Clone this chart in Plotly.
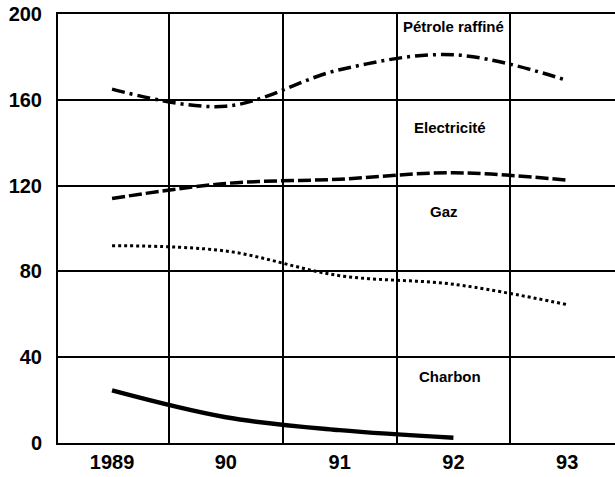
import plotly.graph_objects as go

years = ["1989", "90", "91", "92", "93"]
petrole = [165, 157, 174, 181, 169]
electricite = [114, 121, 123, 126, 122.5]
gaz = [92, 89.5, 78, 74, 64.5]
charbon = [24.5, 12, 6, 2.5]

x = list(range(len(years)))

fig = go.Figure()
fig.add_trace(go.Scatter(x=x, y=petrole, mode="lines", line_shape="spline",
                         line=dict(color="black", width=3.5, dash="13px,5px,3px,5px")))
fig.add_trace(go.Scatter(x=x, y=electricite, mode="lines", line_shape="spline",
                         line=dict(color="black", width=3.5, dash="13px,4px")))
fig.add_trace(go.Scatter(x=x, y=gaz, mode="lines", line_shape="spline",
                         line=dict(color="black", width=3, dash="3px,3px")))
fig.add_trace(go.Scatter(x=x[:len(charbon)], y=charbon, mode="lines", line_shape="spline",
                         line=dict(color="black", width=4.5)))

# series labels
lab_font = dict(family="Liberation Sans", size=15, color="black")
for txt, lx, ly in [("<b>Pétrole raffiné</b>", 3.0, 194),
                    ("<b>Electricité</b>", 2.97, 147),
                    ("<b>Gaz</b>", 2.92, 108),
                    ("<b>Charbon</b>", 2.97, 31)]:
    fig.add_annotation(x=lx, y=ly, text=txt, showarrow=False, font=lab_font,
                       bgcolor="white", borderpad=1)

fig.update_layout(
    width=615, height=477,
    margin=dict(l=58, r=0, t=14, b=34),
    plot_bgcolor="white", paper_bgcolor="white",
    showlegend=False,
    font=dict(family="Liberation Sans", size=20, color="black"),
)
fig.update_xaxes(
    range=[-0.475, 4.42], tickvals=x, ticktext=["<b>%s</b>" % y for y in years],
    showgrid=False, zeroline=False, showline=True, mirror=True,
    linecolor="black", linewidth=2, ticks="", ticklen=0,
    minor=dict(tick0=0.5, dtick=1, showgrid=True, gridcolor="black", gridwidth=1.5),
)
fig.update_yaxes(
    range=[0, 200], tickvals=[0, 40, 80, 120, 160, 200],
    ticktext=["<b>%d</b>" % v for v in [0, 40, 80, 120, 160, 200]],
    showgrid=True, gridcolor="black", gridwidth=1.5, zeroline=False,
    showline=True, linecolor="black", linewidth=2, ticks="", ticklen=0,
    ticklabelstandoff=10,
)

fig.write_html("out.html", config={"displayModeBar": False},
               post_script="document.body.style.margin='0';")
